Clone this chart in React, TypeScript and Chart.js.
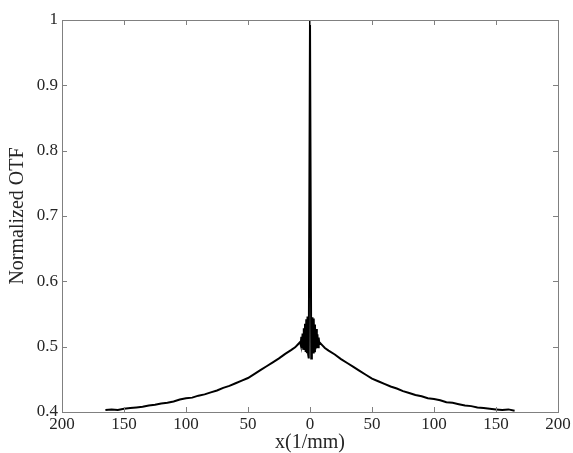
import React, { useEffect, useRef } from 'react';
import Chart from 'chart.js/auto';

// spatial frequency, 1/mm
const freq = [
  -165, -160, -155, -150, -145, -140, -135, -130, -125, -120, -115, -110, -105, -100,
  -95, -90, -85, -80, -75, -70, -65, -60, -55, -50, -45, -40, -35, -30, -25, -20, -15,
  -12, -10, -8, -7.5, -7, -6.5, -6, -5.5, -5, -4.5, -4, -3.5, -3, -2.5, -2, -1.5, -1,
  0,
  1, 1.5, 2, 2.5, 3, 3.5, 4, 4.5, 5, 5.5, 6, 6.5, 7, 7.5, 8, 10, 12, 15, 20, 25, 30,
  35, 40, 45, 50, 55, 60, 65, 70, 75, 80, 85, 90, 95, 100, 105, 110, 115, 120, 125,
  130, 135, 140, 145, 150, 155, 160, 165,
];

const otf = [
  0.403, 0.404, 0.403, 0.405, 0.406, 0.407, 0.408, 0.41, 0.411, 0.413, 0.414, 0.416, 0.419, 0.421,
  0.422, 0.425, 0.427, 0.43, 0.433, 0.437, 0.44, 0.444, 0.448, 0.452, 0.458, 0.464, 0.47, 0.476, 0.482, 0.489, 0.495,
  0.499, 0.503, 0.507, 0.503, 0.515, 0.498, 0.52, 0.497, 0.528, 0.495, 0.535, 0.492, 0.542, 0.49, 0.546, 0.488, 0.482,
  1.0,
  0.482, 0.489, 0.545, 0.491, 0.543, 0.493, 0.534, 0.496, 0.527, 0.498, 0.519, 0.499, 0.514, 0.504, 0.506, 0.502, 0.498, 0.494, 0.488, 0.481, 0.475,
  0.469, 0.463, 0.457, 0.451, 0.447, 0.443, 0.439, 0.436, 0.432, 0.429, 0.426, 0.424, 0.421, 0.42, 0.418, 0.415, 0.414, 0.412, 0.41,
  0.409, 0.407, 0.406, 0.405, 0.404, 0.403, 0.404, 0.402,
];

const xTicks = [-200, -150, -100, -50, 0, 50, 100, 150, 200];
const yTicks = [0.4, 0.5, 0.6, 0.7, 0.8, 0.9, 1];

const FONT = '"Liberation Serif", "Times New Roman", serif';
const AXIS_GREY = '#808080';

// matlab style box with inward ticks on all four sides
const boxPlugin = {
  id: 'boxTicks',
  afterDraw(chart: any) {
    const { ctx, chartArea, scales } = chart;
    const { left, right, top, bottom } = chartArea;
    const len = 5;
    ctx.save();
    ctx.strokeStyle = AXIS_GREY;
    ctx.lineWidth = 1;
    ctx.strokeRect(Math.round(left) + 0.5, Math.round(top) + 0.5, Math.round(right - left), Math.round(bottom - top));
    ctx.beginPath();
    xTicks.forEach(t => {
      const px = Math.round(scales.x.getPixelForValue(t)) + 0.5;
      ctx.moveTo(px, bottom);
      ctx.lineTo(px, bottom - len);
      ctx.moveTo(px, top);
      ctx.lineTo(px, top + len);
    });
    yTicks.forEach(t => {
      const py = Math.round(scales.y.getPixelForValue(t)) + 0.5;
      ctx.moveTo(left, py);
      ctx.lineTo(left + len, py);
      ctx.moveTo(right, py);
      ctx.lineTo(right - len, py);
    });
    ctx.stroke();
    ctx.restore();
  },
};

const App: React.FC = () => {
  const canvasRef = useRef<HTMLCanvasElement>(null);
  const chartRef = useRef<Chart | null>(null);

  useEffect(() => {
    document.body.style.margin = '0';
    if (!canvasRef.current) return;
    if (chartRef.current) chartRef.current.destroy();

    chartRef.current = new Chart(canvasRef.current, {
      type: 'line',
      data: {
        datasets: [
          {
            label: 'OTF',
            data: freq.map((x, i) => ({ x, y: otf[i] })),
            borderColor: '#000000',
            borderWidth: 2,
            pointRadius: 0,
            tension: 0,
            fill: false,
          },
        ],
      },
      plugins: [boxPlugin],
      options: {
        responsive: false,
        animation: false,
        layout: { padding: { top: 20, right: 15, left: 0, bottom: 0 } },
        plugins: {
          legend: { display: false },
          tooltip: { enabled: false },
        },
        scales: {
          x: {
            type: 'linear',
            min: -200,
            max: 200,
            afterFit: (s: any) => { s.height = 41; },
            afterBuildTicks: (s: any) => { s.ticks = xTicks.map(v => ({ value: v })); },
            grid: { display: false, drawTicks: false },
            border: { display: false },
            ticks: {
              padding: 2,
              maxRotation: 0,
              autoSkip: false,
              color: '#262626',
              font: { family: FONT, size: 17 },
              callback: (v: any) => String(Math.abs(Number(v))),
            },
            title: {
              display: true,
              text: 'x(1/mm)',
              color: '#262626',
              font: { family: FONT, size: 20, lineHeight: 1 },
              padding: { top: 0, bottom: 0 },
            },
          },
          y: {
            min: 0.4,
            max: 1,
            afterFit: (s: any) => { s.width = 62; },
            afterBuildTicks: (s: any) => { s.ticks = yTicks.map(v => ({ value: v })); },
            grid: { display: false, drawTicks: false },
            border: { display: false },
            ticks: {
              padding: 4,
              autoSkip: false,
              color: '#262626',
              font: { family: FONT, size: 17 },
              callback: (v: any) => String(Number(Number(v).toFixed(1))),
            },
            title: {
              display: true,
              text: 'Normalized OTF',
              color: '#262626',
              font: { family: FONT, size: 20 },
              padding: { top: 6, bottom: 0 },
            },
          },
        },
      },
    });

    return () => {
      if (chartRef.current) {
        chartRef.current.destroy();
        chartRef.current = null;
      }
    };
  }, []);

  return (
    <div style={{ width: 573, height: 453, background: '#ffffff' }}>
      <canvas ref={canvasRef} width={573} height={453}></canvas>
    </div>
  );
};

export default App;
